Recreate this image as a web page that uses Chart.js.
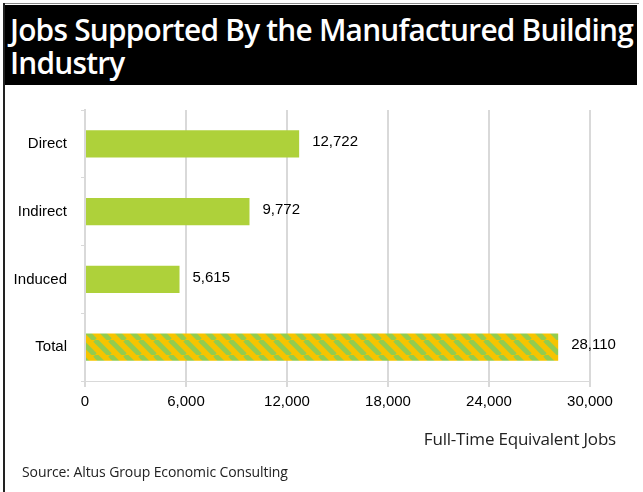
<!DOCTYPE html>
<html>
<head>
<meta charset="utf-8">
<script src="https://cdn.jsdelivr.net/npm/chart.js@4.4.1/dist/chart.umd.min.js"></script>
<style>
  html, body { margin: 0; padding: 0; background: #fff; }
  body { width: 643px; height: 492px; position: relative; overflow: hidden; }
  #frameTop { position: absolute; left: 3px; top: 3px; width: 636px; height: 1px; background: #888; }
  #frameLeft { position: absolute; left: 3px; top: 3px; width: 2px; height: 489px; background: #222; }
  #title {
    position: absolute; left: 5px; top: 5px; width: 632px; height: 80px;
    background: #000; color: #fff; overflow: hidden;
    font-family: "Open Sans", sans-serif; font-weight: 600; font-size: 31px;
    line-height: 33px; box-sizing: border-box; padding: 8px 0 0 5px;
    letter-spacing: -0.8px; white-space: nowrap;
  }
  #title span { display: inline-block; transform: scaleX(0.962); transform-origin: left top; }
  #wrap { position: absolute; left: 5px; top: 85px; width: 638px; height: 407px; }
  #axisTitle {
    position: absolute; right: 27px; top: 427px;
    font-family: "Open Sans", sans-serif; font-size: 17px; color: #222; letter-spacing: -0.2px;
  }
  #source {
    position: absolute; left: 22px; top: 462px;
    font-family: "Open Sans", sans-serif; font-size: 14px; color: #222; letter-spacing: -0.1px;
  }
</style>
</head>
<body>
<div id="frameTop"></div>
<div id="frameLeft"></div>
<div id="title"><span>Jobs Supported By the Manufactured Building<br>Industry</span></div>
<div id="wrap"><canvas id="myChart" width="638" height="407"></canvas></div>
<div id="axisTitle">Full-Time Equivalent Jobs</div>
<div id="source">Source: Altus Group Economic Consulting</div>
<script>
// Data
const categories = ['Direct', 'Indirect', 'Induced', 'Total'];
const jobs = [12722, 9772, 5615, 28110];
const xTicks = [0, 6000, 12000, 18000, 24000, 30000];

const ctx = document.getElementById('myChart').getContext('2d');

// Striped fill for the Total bar
function stripes() {
    const tile = document.createElement('canvas');
    const s = 15;
    tile.width = s; tile.height = s;
    const t = tile.getContext('2d');
    t.fillStyle = '#f6c400';
    t.fillRect(0, 0, s, s);
    t.strokeStyle = '#93cc4e';
    t.lineWidth = 5;
    for (let k = -1; k <= 1; k++) {
        t.beginPath();
        t.moveTo(k * s, 0);
        t.lineTo(k * s + s, s);
        t.stroke();
    }
    return ctx.createPattern(tile, 'repeat');
}

const green = '#aed13a';
const colors = categories.map((c, i) => i === 3 ? stripes() : green);

// Value labels at the end of each bar
const valueLabels = {
    id: 'valueLabels',
    afterDatasetsDraw(chart) {
        const c = chart.ctx;
        const meta = chart.getDatasetMeta(0);
        c.save();
        c.font = '15px "Liberation Sans", Arial, sans-serif';
        c.fillStyle = '#000';
        c.textBaseline = 'middle';
        meta.data.forEach((bar, i) => {
            c.fillText(jobs[i].toLocaleString('en-US'), bar.x + 13, bar.y - 2);
        });
        c.restore();
    }
};

const myChart = new Chart(ctx, {
    type: 'bar',
    data: {
        labels: categories,
        datasets: [{
            data: jobs,
            backgroundColor: colors,
            borderWidth: 0,
            barPercentage: 0.4,
            categoryPercentage: 1
        }]
    },
    options: {
        indexAxis: 'y',
        responsive: false,
        animation: false,
        layout: { padding: { left: 0, right: 53, top: 25, bottom: 64 } },
        plugins: {
            legend: { display: false },
            tooltip: { enabled: false }
        },
        scales: {
            x: {
                min: 0,
                max: 30000,
                afterBuildTicks: s => { s.ticks = xTicks.map(v => ({ value: v })); },
                afterFit: s => { s.height = 47; },
                grid: { color: '#d9d9d9', lineWidth: 2, tickLength: 6 },
                border: { color: '#d9d9d9', width: 1 },
                ticks: {
                    color: '#000',
                    padding: 6,
                    font: { family: '"Liberation Sans", Arial, sans-serif', size: 15 },
                    callback: v => v.toLocaleString('en-US')
                }
            },
            y: {
                afterFit: s => { s.width = 80; },
                grid: { display: true, drawOnChartArea: false, color: '#d9d9d9', tickLength: 4, offset: true },
                border: { color: '#d9d9d9', width: 2 },
                ticks: {
                    color: '#000',
                    padding: 14,
                    font: { family: '"Liberation Sans", Arial, sans-serif', size: 15 }
                }
            }
        }
    },
    plugins: [valueLabels]
});
</script>
</body>
</html>
